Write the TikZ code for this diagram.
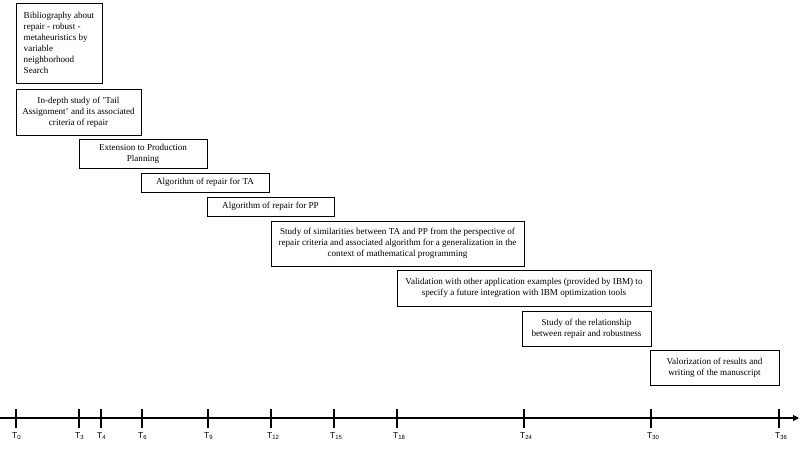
\documentclass[tikz,border=0pt]{standalone}
\usepackage{fontspec}
\setmainfont{Liberation Serif}
\newfontfamily\labfont{Liberation Sans}
\usetikzlibrary{arrows.meta}
\tikzset{
  box/.style={draw=black, line width=0.9pt, rectangle, inner sep=0pt, align=center,
    font=\fontsize{9.1}{11}\selectfont},
  tick/.style={line width=1.2pt},
  tlab/.style={anchor=north west, inner sep=0pt, font=\labfont\fontsize{8.5}{9}\selectfont}
}
\begin{document}
\begin{tikzpicture}[x=1pt,y=-1pt]
\useasboundingbox (0,0) rectangle (800,450);
\node[box, align=left, minimum width=86pt, minimum height=80pt] (b1) at (59,43)
  {Bibliography about\\repair - robust -\\metaheuristics by\\variable\\neighborhood\\Search};
\node[box, minimum width=125pt, minimum height=46pt] (b2) at (78.5,112)
  {In-depth study of 'Tail\\Assignment' and its associated\\criteria of repair};
\node[box, minimum width=128pt, minimum height=29pt] (b3) at (143,153.5)
  {Extension to Production\\Planning};
\node[box, minimum width=128pt, minimum height=19pt] (b4) at (205,182.5)
  {Algorithm of repair for TA};
\node[box, minimum width=127pt, minimum height=19pt] (b5) at (270.5,206.5)
  {Algorithm of repair for PP};
\node[box, minimum width=253pt, minimum height=45pt] (b6) at (397.5,243.5)
  {Study of similarities between TA and PP from the perspective of\\repair criteria and associated algorithm for a generalization in the\\context of mathematical programming};
\node[box, minimum width=254pt, minimum height=36pt] (b7) at (524,288)
  {Validation with other application examples (provided by IBM) to\\specify a future integration with IBM optimization tools};
\node[box, minimum width=129pt, minimum height=35pt] (b8) at (586.5,328.5)
  {Study of the relationship\\between repair and robustness};
\node[box, minimum width=129pt, minimum height=35pt] (b9) at (714.5,367.5)
  {Valorization of results and\\writing of the manuscript};
% axis
\coordinate (a0) at (0,418);
\coordinate (a1) at (799,418);
\draw[line width=1.2pt, -{Triangle[length=6pt,width=6pt]}] (a0) -- (a1);
\foreach \x/\n in {16/0,79/3,101/4,142/6,208/9,271/12,334/15,397/18,524/24,651/30,779/36}{
  \coordinate (t\n) at (\x,409);
  \coordinate (u\n) at (\x,428);
  \draw[tick] (t\n) -- (u\n);
  \node[tlab] (l\n) at (\x-4,432) {T\textsubscript{\n}};
}
\end{tikzpicture}
\end{document}
